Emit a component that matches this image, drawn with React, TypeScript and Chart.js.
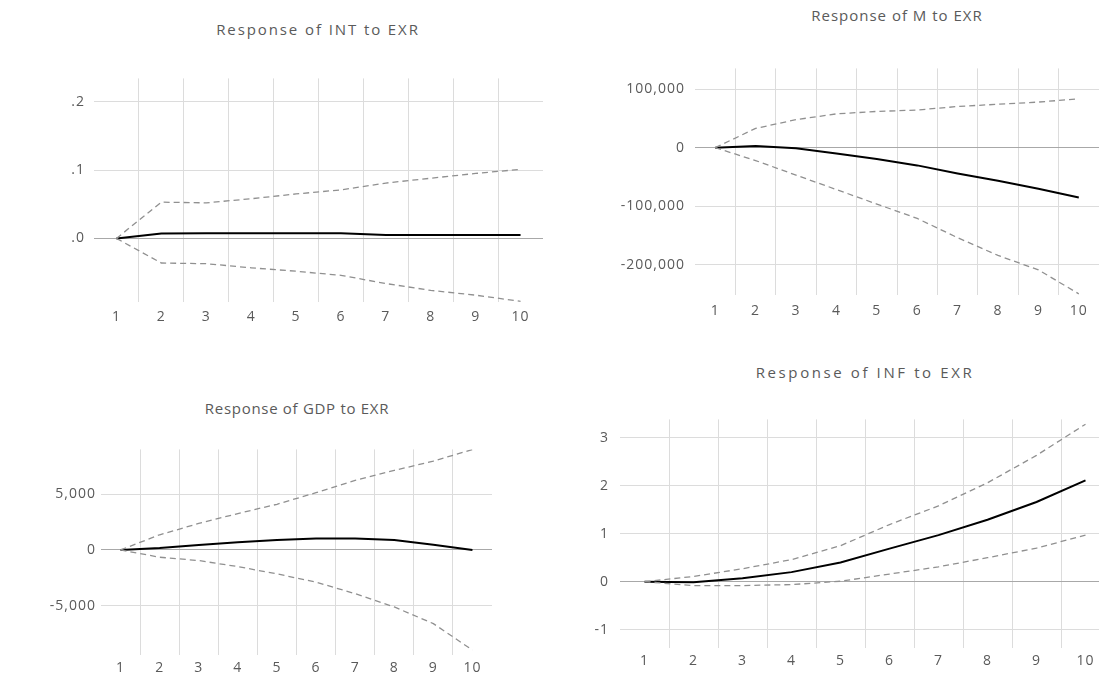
import React, { useEffect, useRef } from 'react';
import { Chart, registerables } from 'chart.js';
Chart.register(...registerables);

const periods = ['1', '2', '3', '4', '5', '6', '7', '8', '9', '10'];

const intResponse = [0, 0.007, 0.0075, 0.0075, 0.0075, 0.0075, 0.005, 0.005, 0.005, 0.005];
const intUpper = [0, 0.053, 0.052, 0.058, 0.065, 0.071, 0.081, 0.088, 0.095, 0.101];
const intLower = [0, -0.036, -0.037, -0.043, -0.048, -0.054, -0.066, -0.076, -0.083, -0.092];
const intTickValues = [0, 0.1, 0.2];
const intTickLabels = ['.0', '.1', '.2'];

const mResponse = [0, 2700, -1000, -9900, -19300, -30300, -44000, -56700, -70400, -85300];
const mUpper = [0, 33000, 47900, 57800, 62000, 64400, 70400, 74300, 78000, 83500];
const mLower = [0, -22000, -46900, -71600, -96400, -121000, -154000, -184300, -209000, -250000];
const mTickValues = [-200000, -100000, 0, 100000];
const mTickLabels = ['-200,000', '-100,000', '0', '100,000'];

const gdpResponse = [0, 180, 450, 680, 890, 1030, 1030, 890, 470, 0];
const gdpUpper = [0, 1360, 2370, 3260, 4090, 5130, 6230, 7120, 7950, 8990];
const gdpLower = [0, -650, -950, -1490, -2140, -2880, -3910, -5100, -6590, -8960];
const gdpTickValues = [-5000, 0, 5000];
const gdpTickLabels = ['-5,000', '0', '5,000'];

const infResponse = [0, -0.01, 0.07, 0.2, 0.4, 0.69, 0.97, 1.29, 1.66, 2.11];
const infUpper = [0, 0.11, 0.27, 0.46, 0.75, 1.19, 1.58, 2.06, 2.63, 3.28];
const infLower = [0, -0.08, -0.08, -0.06, 0.01, 0.16, 0.31, 0.5, 0.7, 0.97];
const infTickValues = [-1, 0, 1, 2, 3];
const infTickLabels = ['-1', '0', '1', '2', '3'];

const FONT = "'Open Sans', 'Noto Sans', sans-serif";
const TEXT = '#5a5a5a';
const Y_W = 90;
const PAD_T = 12;
const PAD_R = 12;
const X_H = 30;

type PanelCfg = {
  title: string;
  titleX: number;
  titleY: number;
  titleSpacing: number;
  l: number; t: number; r: number; b: number;
  min: number; max: number;
  yPad: number; xPad: number;
  resp: number[]; up: number[]; lo: number[];
  tickValues: number[]; tickLabels: string[];
};

const panels: PanelCfg[] = [
  {
    title: 'Response of INT to EXR', titleX: 318, titleY: 29, titleSpacing: 1.9,
    l: 94, t: 73, r: 543, b: 302, min: -0.093, max: 0.234, yPad: 9, xPad: 7,
    resp: intResponse, up: intUpper, lo: intLower, tickValues: intTickValues, tickLabels: intTickLabels,
  },
  {
    title: 'Response of M to EXR', titleX: 897, titleY: 15, titleSpacing: 1.0,
    l: 695, t: 62, r: 1099, b: 295, min: -252000, max: 135600, yPad: 10, xPad: 8,
    resp: mResponse, up: mUpper, lo: mLower, tickValues: mTickValues, tickLabels: mTickLabels,
  },
  {
    title: 'Response of GDP to EXR', titleX: 297, titleY: 408, titleSpacing: 0.7,
    l: 101, t: 448, r: 492, b: 655, min: -9400, max: 9000, yPad: 5, xPad: 5,
    resp: gdpResponse, up: gdpUpper, lo: gdpLower, tickValues: gdpTickValues, tickLabels: gdpTickLabels,
  },
  {
    title: 'Response of INF to EXR', titleX: 865, titleY: 372, titleSpacing: 2.6,
    l: 620, t: 412, r: 1110, b: 648, min: -1.38, max: 3.38, yPad: 11, xPad: 5,
    resp: infResponse, up: infUpper, lo: infLower, tickValues: infTickValues, tickLabels: infTickLabels,
  },
];

const spacingPlugin = {
  id: 'letterSpacing',
  beforeDraw: (chart: any) => {
    chart.ctx.letterSpacing = '1px';
  },
};

function Panel({ cfg }: { cfg: PanelCfg }) {
  const ref = useRef<HTMLCanvasElement>(null);
  const w = Y_W + (cfg.r - cfg.l) + PAD_R;
  const h = PAD_T + (cfg.b - cfg.t) + X_H;

  useEffect(() => {
    if (!ref.current) return;
    const dashed = {
      borderColor: '#909090',
      borderWidth: 1.3,
      borderDash: [6, 4],
      pointRadius: 0,
      fill: false,
      tension: 0,
    };
    const chart = new Chart(ref.current, {
      type: 'line',
      data: {
        labels: periods,
        datasets: [
          { label: 'upper', data: cfg.up, ...dashed },
          { label: 'lower', data: cfg.lo, ...dashed },
          {
            label: 'response', data: cfg.resp, borderColor: '#000000', borderWidth: 2,
            pointRadius: 0, fill: false, tension: 0,
          },
        ],
      },
      plugins: [spacingPlugin],
      options: {
        animation: false,
        responsive: false,
        devicePixelRatio: 1,
        layout: { padding: { top: PAD_T, right: PAD_R, left: 0, bottom: 0 } },
        plugins: { legend: { display: false }, tooltip: { enabled: false }, title: { display: false } },
        scales: {
          x: {
            type: 'category',
            offset: true,
            border: { display: false },
            grid: {
              offset: true,
              drawTicks: false,
              lineWidth: 1,
              color: (c: any) => (c.type !== 'tick' || c.index === 0 ? 'rgba(0,0,0,0)' : '#dcdcdc'),
            },
            ticks: {
              autoSkip: false, maxRotation: 0, padding: cfg.xPad, color: TEXT,
              font: { family: FONT, size: 14 },
            },
            afterFit: (s: any) => { s.height = X_H; },
          },
          y: {
            type: 'linear',
            min: cfg.min,
            max: cfg.max,
            border: { display: false },
            grid: {
              drawTicks: false,
              lineWidth: 1,
              color: (c: any) => (c.tick && c.tick.value === 0 ? '#a8a8a8' : '#dcdcdc'),
            },
            afterBuildTicks: (s: any) => { s.ticks = cfg.tickValues.map((v) => ({ value: v })); },
            ticks: {
              padding: cfg.yPad, color: TEXT,
              font: { family: FONT, size: 14 },
              callback: (v: any) => {
                const i = cfg.tickValues.indexOf(Number(v));
                return i >= 0 ? cfg.tickLabels[i] : '';
              },
            },
            afterFit: (s: any) => { s.width = Y_W; },
          },
        },
      },
    } as any);
    return () => chart.destroy();
  }, []);

  return (
    <>
      <div
        style={{
          position: 'absolute', left: cfg.titleX, top: cfg.titleY, transform: 'translate(-50%, -50%)',
          fontFamily: FONT, fontSize: 15, color: TEXT, whiteSpace: 'nowrap', letterSpacing: cfg.titleSpacing,
          lineHeight: 1,
        }}
      >
        {cfg.title}
      </div>
      <canvas
        ref={ref}
        width={w}
        height={h}
        style={{ position: 'absolute', left: cfg.l - Y_W, top: cfg.t - PAD_T, width: w, height: h }}
      />
    </>
  );
}

export default function App() {
  return (
    <div
      style={{
        position: 'absolute', left: 0, top: 0, width: 1099, height: 680, overflow: 'hidden', background: '#ffffff',
      }}
    >
      {panels.map((p) => (
        <Panel key={p.title} cfg={p} />
      ))}
    </div>
  );
}
